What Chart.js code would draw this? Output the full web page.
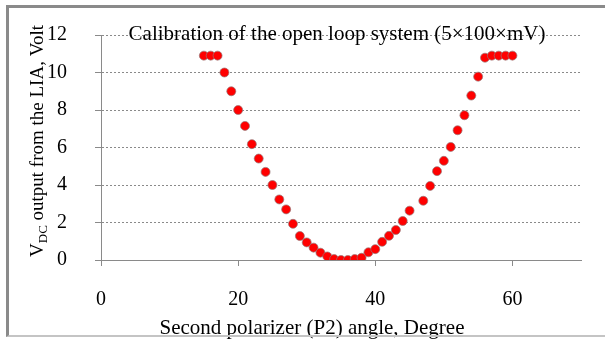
<!DOCTYPE html>
<html>
<head>
<meta charset="utf-8">
<script src="https://cdn.jsdelivr.net/npm/chart.js@4.4.1/dist/chart.umd.min.js"></script>
<style>
  body { margin: 0; background: #fff; }
  #wrap { position: relative; width: 605px; height: 339px; overflow: hidden; }
  #grafico { position: absolute; left: 0; top: 0; }
  #marco {
    position: absolute; left: 6px; top: 5px; width: 640px; height: 327px;
    border-left: 3px solid #8a8a8a; border-top: 3px solid #8a8a8a;
    border-bottom: 2px solid #c4c4c4; pointer-events: none;
  }
</style>
</head>
<body>
<div id="wrap">
  <canvas id="grafico" width="605" height="339"></canvas>
  <div id="marco"></div>
</div>
<script>
// angulo del segundo polarizador (grados) y voltaje DC medido (V)
const angulos = [15, 16, 17, 18, 19, 20, 21, 22, 23, 24, 25, 26, 27, 28, 29, 30,
  31, 32, 33, 34, 35, 36, 37, 38, 39, 40, 41, 42, 43, 44, 45,
  47, 48, 49, 50, 51, 52, 53, 54, 55, 56, 57, 58, 59, 60];
const voltajes = [10.9, 10.9, 10.9, 10.0, 9.0, 8.0, 7.15, 6.18, 5.41, 4.7, 4.0, 3.23, 2.7, 1.93, 1.28, 0.94,
  0.66, 0.39, 0.19, 0.05, 0.0, 0.0, 0.05, 0.12, 0.41, 0.58, 0.97, 1.29, 1.6, 2.08, 2.63,
  3.16, 3.95, 4.74, 5.29, 6.03, 6.92, 7.72, 8.77, 9.78, 10.79, 10.9, 10.9, 10.9, 10.9];
const ticksX = [0, 20, 40, 60];
const ticksY = [0, 2, 4, 6, 8, 10, 12];

const titulo = "Calibration of the open loop system (5\u00d7100\u00d7mV)";
const tituloX = "Second polarizer (P2) angle, Degree";
const tituloY = ["V", "DC", " output from the LIA, Volt"];

const fuente = "'Liberation Serif', 'Times New Roman', serif";
const gris = "#8a8a8a";

// titulos dibujados a mano (el del eje Y lleva subindice)
const textos = {
  id: "textos",
  afterDraw(chart) {
    const ctx = chart.ctx;
    ctx.save();
    ctx.fillStyle = "#000";
    ctx.textBaseline = "alphabetic";

    ctx.font = "21px " + fuente;
    ctx.textAlign = "center";
    ctx.fillText(titulo, 337, 40);
    ctx.fillText(tituloX, 312, 334);

    // eje Y, rotado
    ctx.translate(43, 141);
    ctx.rotate(-Math.PI / 2);
    ctx.textAlign = "left";
    ctx.font = "19px " + fuente;
    const w1 = ctx.measureText(tituloY[0]).width;
    const w3 = ctx.measureText(tituloY[2]).width;
    ctx.font = "13px " + fuente;
    const w2 = ctx.measureText(tituloY[1]).width;
    let x = -(w1 + w2 + w3) / 2;
    ctx.font = "19px " + fuente;
    ctx.fillText(tituloY[0], x, 0);
    x += w1;
    ctx.font = "13px " + fuente;
    ctx.fillText(tituloY[1], x, 4);
    x += w2;
    ctx.font = "19px " + fuente;
    ctx.fillText(tituloY[2], x, 0);
    ctx.restore();
  }
};

const ctx = document.getElementById("grafico").getContext("2d");
const grafico = new Chart(ctx, {
  type: "scatter",
  data: {
    datasets: [
      {
        label: "Calibration",
        data: angulos.map((a, i) => ({ x: a, y: voltajes[i] })),
        pointRadius: 4.5,
        pointBackgroundColor: "#ff0000",
        pointBorderColor: "rgba(150, 120, 120, 0.7)",
        pointBorderWidth: 1,
      },
    ],
  },
  options: {
    responsive: false,
    animation: false,
    layout: { padding: { top: 35, right: 24, left: 0, bottom: 0 } },
    plugins: {
      legend: { display: false },
      tooltip: { enabled: false },
    },
    scales: {
      x: {
        type: "linear",
        min: 0,
        max: 70,
        afterBuildTicks: (s) => { s.ticks = ticksX.map((v) => ({ value: v })); },
        afterFit: (s) => { s.height = 79; },
        border: { color: gris, width: 1 },
        grid: { drawOnChartArea: false, tickLength: 6, tickColor: gris },
        ticks: { color: "#000", padding: 22, maxRotation: 0, font: { family: fuente, size: 20 } },
      },
      y: {
        type: "linear",
        min: 0,
        max: 12,
        afterBuildTicks: (s) => { s.ticks = ticksY.map((v) => ({ value: v })); },
        // el padding de las etiquetas no debe empujar el area del grafico
        afterFit: (s) => { s.width = 101; s.paddingTop = 0; s.paddingBottom = 0; },
        border: { color: gris, width: 1, dash: [2, 2] },
        grid: {
          color: (c) => (c.tick && c.tick.value === 0 ? "transparent" : gris),
          tickLength: 6,
          tickColor: gris,
          tickBorderDash: [],
        },
        ticks: { color: "#000", padding: 28, font: { family: fuente, size: 20 } },
      },
    },
  },
  plugins: [textos],
});
</script>
</body>
</html>
